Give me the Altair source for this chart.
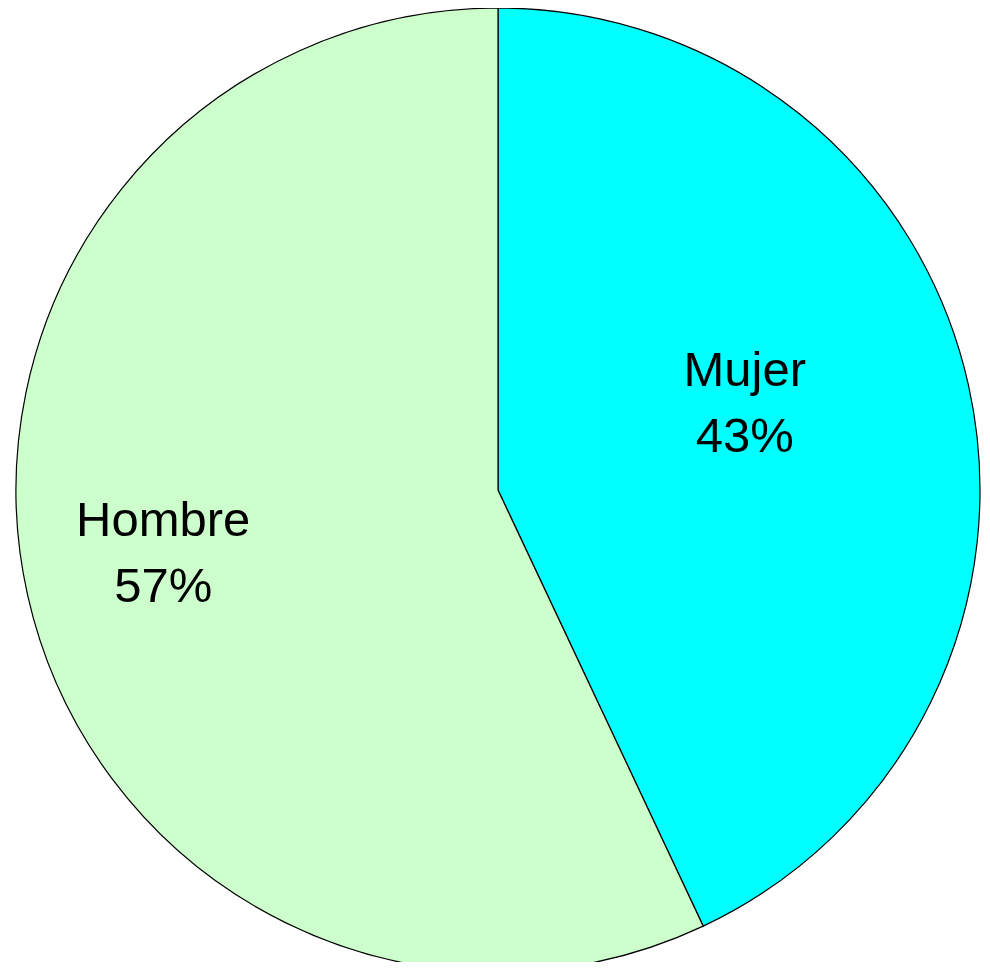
import altair as alt
import pandas as pd

categories = ["Mujer", "Hombre"]
values = [43, 57]
colors = ["#00FFFF", "#CCFFCC"]

df = pd.DataFrame({
    "cat": categories,
    "val": values,
    "ord": list(range(len(categories))),
    "label": [f"{c}\n{v}%" for c, v in zip(categories, values)],
})

base = alt.Chart(df)

pie = base.mark_arc(outerRadius=482, stroke="black", strokeWidth=1.2).encode(
    theta=alt.Theta("val:Q", stack=True),
    color=alt.Color("cat:N", scale=alt.Scale(domain=categories, range=colors), legend=None),
    order=alt.Order("ord:Q"),
)

def label_layer(cat, radius, dx, dy):
    return (
        base.transform_window(cum="sum(val)", sort=[alt.SortField("ord")], frame=[None, 0])
        .transform_calculate(mid="datum.cum - datum.val / 2")
        .transform_filter(alt.datum.cat == cat)
        .mark_text(radius=radius, dx=dx, dy=dy, fontSize=49, font="Liberation Sans",
                   lineBreak="\n", lineHeight=66, align="center", baseline="middle", color="black")
        .encode(
            theta=alt.Theta("mid:Q", scale=alt.Scale(domain=[0, 100])),
            text="label:N",
        )
    )

chart = alt.layer(
    pie,
    label_layer("Mujer", 261, -8, -62),
    label_layer("Hombre", 341, -2, -43),
).properties(
    width=980, height=964, autosize="none",
    padding={"left": 0, "top": 0, "right": -6, "bottom": -10},
).configure_view(stroke=None)

chart.save("out.html", embed_options={"renderer": "svg", "actions": False})
